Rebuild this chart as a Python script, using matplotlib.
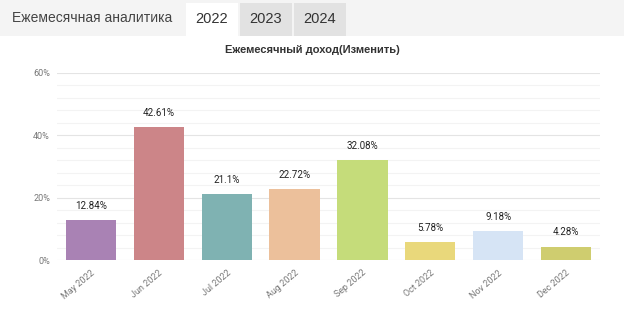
import matplotlib
matplotlib.use("Agg")
import matplotlib.pyplot as plt
from matplotlib.patches import Rectangle
from matplotlib.ticker import MultipleLocator

months = ["May 2022", "Jun 2022", "Jul 2022", "Aug 2022",
          "Sep 2022", "Oct 2022", "Nov 2022", "Dec 2022"]
values = [12.84, 42.61, 21.1, 22.72, 32.08, 5.78, 9.18, 4.28]
labels = ["12.84%", "42.61%", "21.1%", "22.72%", "32.08%", "5.78%", "9.18%", "4.28%"]
colors = ["#a982b4", "#cc8588", "#7fb2b2", "#ecc09b", "#c5dc7a",
          "#e9d87b", "#d6e4f5", "#cfcd6f"]
tabs = ["2022", "2023", "2024"]

plt.rcParams['font.family'] = ['Roboto', 'DejaVu Sans']

fig = plt.figure(figsize=(6.24, 3.12), dpi=100)
W, H = 624, 312

# top bar with year tabs
fig.patches.append(Rectangle((0, 1 - 36 / H), 1, 36 / H, transform=fig.transFigure,
                             facecolor="#f4f4f4", edgecolor="none", zorder=0))
fig.text(12 / W, 1 - 18 / H, "Ежемесячная аналитика", fontsize=10, color="#444444",
         va="center", ha="left", family=['Liberation Sans', 'DejaVu Sans'])
tab_x = [186, 240, 294]
for i, t in enumerate(tabs):
    fc = "white" if i == 0 else "#e2e2e2"
    fig.patches.append(Rectangle((tab_x[i] / W, 1 - 36 / H), 52 / W, 33 / H,
                                 transform=fig.transFigure, facecolor=fc,
                                 edgecolor="none", zorder=1))
    fig.text((tab_x[i] + 26) / W, 1 - 19 / H, t, fontsize=10.5, color="#333333",
             ha="center", va="center", family=['Liberation Sans', 'DejaVu Sans'])

fig.text(312 / W, 1 - 50 / H, "Ежемесячный доход(Изменить)", fontsize=8,
         fontweight="bold", color="#333333", ha="center", va="center",
         family=['Liberation Sans', 'DejaVu Sans'])

ax = fig.add_axes([57 / W, 1 - 260 / H, 543 / W, 187 / H])
x = range(len(months))
bars = ax.bar(x, values, width=0.74, color=colors, zorder=3)
for b, lab in zip(bars, labels):
    ax.text(b.get_x() + b.get_width() / 2, b.get_height() + 3, lab,
            ha="center", va="bottom", fontsize=7, color="#222222")

ax.set_xlim(-0.5, len(months) - 0.5)
ax.set_ylim(0, 60)
ax.yaxis.set_minor_locator(MultipleLocator(4))
ax.set_yticks([0, 20, 40, 60])
ax.set_yticklabels(["0%", "20%", "40%", "60%"])
ax.grid(axis="y", which="major", color="#e4e4e4", linewidth=0.8, zorder=0)
ax.grid(axis="y", which="minor", color="#f3f3f3", linewidth=0.8, zorder=0)
ax.set_xticks(list(x))
ax.set_xticklabels(months, rotation=40, ha="right", rotation_mode="anchor")
ax.tick_params(axis="both", which="both", length=0, labelsize=6.5, colors="#777777")
ax.tick_params(axis="x", pad=6)
ax.tick_params(axis="y", pad=5)
for s in ax.spines.values():
    s.set_visible(False)

fig.savefig("out.png", dpi=100)
